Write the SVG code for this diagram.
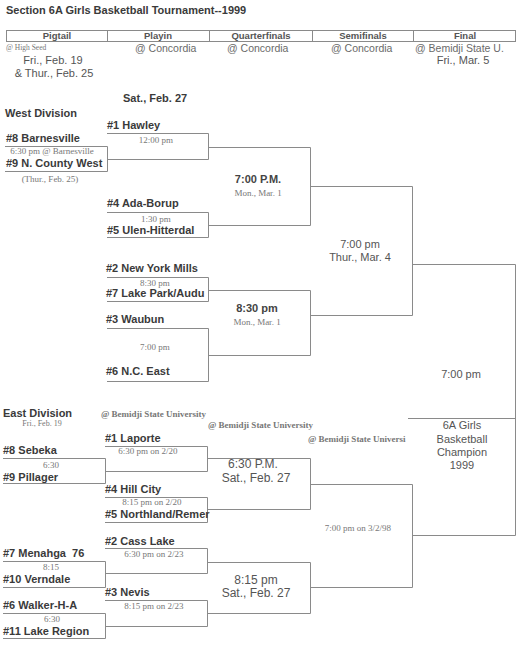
<svg xmlns="http://www.w3.org/2000/svg" width="521" height="664" viewBox="0 0 521 664">
<style>
.t{font-family:"Liberation Sans",Arial,sans-serif;font-weight:bold;font-size:11px;fill:#3a3a3a}
.h{font-family:"Liberation Sans",Arial,sans-serif;font-weight:bold;font-size:9.5px;fill:#555;text-anchor:middle}
.s{font-family:"Liberation Sans",Arial,sans-serif;font-size:10.5px;fill:#6a6a6a}
.m{font-family:"Liberation Sans",Arial,sans-serif;font-size:11px;fill:#555;text-anchor:middle}
.r{font-family:"Liberation Serif","Times New Roman",serif;font-size:9px;fill:#777;text-anchor:middle}
.rb{font-family:"Liberation Serif","Times New Roman",serif;font-size:9px;font-weight:bold;fill:#777}
.qb{font-family:"Liberation Sans",Arial,sans-serif;font-weight:bold;font-size:11px;fill:#444;text-anchor:middle}
.ln{fill:none;stroke:#8a8a8a;stroke-width:1}
</style>
<rect width="521" height="664" fill="#fff"/>

<g id="header">
<text class="t" x="6" y="14">Section 6A Girls Basketball Tournament--1999</text>
<rect class="ln" x="6.5" y="30.5" width="509" height="11"/>
<path class="ln" d="M107.5 30.5V41.5M209.5 30.5V41.5M312.5 30.5V41.5M413.5 30.5V41.5"/>
<text class="h" x="57" y="39">Pigtail</text>
<text class="h" x="158" y="39">Playin</text>
<text class="h" x="261" y="39">Quarterfinals</text>
<text class="h" x="363" y="39">Semifinals</text>
<text class="h" x="465" y="39">Final</text>
<text class="r" x="6" y="50" style="text-anchor:start;font-size:7.5px">@ High Seed</text>
<text class="m" x="53" y="64">Fri., Feb. 19</text>
<text class="m" x="54" y="77">&amp; Thur., Feb. 25</text>
<text class="s" x="135" y="52">@ Concordia</text>
<text class="s" x="227" y="52">@ Concordia</text>
<text class="s" x="331" y="52">@ Concordia</text>
<text class="s" x="415" y="52">@ Bemidji State U.</text>
<text class="m" x="463" y="64">Fri., Mar. 5</text>
<text class="t" x="123" y="102">Sat., Feb. 27</text>
<text class="t" x="5" y="117">West Division</text>
<text class="t" x="3" y="417">East Division</text>
<text class="r" x="42" y="426" style="font-size:8px">Fri., Feb. 19</text>
<text class="rb" x="101" y="417">@ Bemidji State University</text>
<text class="rb" x="208" y="428">@ Bemidji State University</text>
<text class="rb" x="308" y="442">@ Bemidji State Universi</text>
</g>

<g id="connectors">
<path class="ln" d="M5 146.5H107.5V171.5H5"/>
<path class="ln" d="M107 133.5H208.5V159.5H107"/>
<path class="ln" d="M107 212.5H208.5V237.5H107"/>
<path class="ln" d="M107 277.5H208.5V301.5H107"/>
<path class="ln" d="M107 328.5H208.5V381.5H107"/>
<path class="ln" d="M208 147.5H310.5V225.5H208"/>
<path class="ln" d="M208 290.5H310.5V355.5H208"/>
<path class="ln" d="M310 186.5H412.5V315.5H310"/>
<path class="ln" d="M412 264.5H515.5V535.5H412"/>
<path class="ln" d="M408 418.5H515"/>
<path class="ln" d="M3 458.5H105.5V483.5H3"/>
<path class="ln" d="M105 446.5H207.5V471.5H105"/>
<path class="ln" d="M105 497.5H207.5V522.5H105"/>
<path class="ln" d="M3 561.5H105.5V587.5H3"/>
<path class="ln" d="M105 548.5H207.5V573.5H105"/>
<path class="ln" d="M3 613.5H105.5V638.5H3"/>
<path class="ln" d="M105 600.5H207.5V626.5H105"/>
<path class="ln" d="M207 458.5H310.5V509.5H207"/>
<path class="ln" d="M207 562.5H310.5V613.5H207"/>
<path class="ln" d="M310 484.5H412.5V587.5H310"/>
</g>

<g id="pig-west">
<text class="t" x="6" y="142">#8 Barnesville</text>
<text class="r" x="52" y="154">6:30 pm @ Barnesville</text>
<text class="t" x="6" y="167">#9 N. County West</text>
<text class="r" x="50" y="182">(Thur., Feb. 25)</text>
</g>
<g id="hawley">
<text class="t" x="107" y="129">#1 Hawley</text>
<text class="r" x="156" y="143">12:00 pm</text>
</g>
<g id="ada">
<text class="t" x="107" y="207">#4 Ada-Borup</text>
<text class="r" x="156" y="222">1:30 pm</text>
<text class="t" x="107" y="234">#5 Ulen-Hitterdal</text>
</g>
<g id="nym">
<text class="t" x="106" y="272">#2 New York Mills</text>
<text class="r" x="155" y="286">8:30 pm</text>
<text class="t" x="106" y="297">#7 Lake Park/Audu</text>
</g>
<g id="waubun">
<text class="t" x="106" y="323">#3 Waubun</text>
<text class="r" x="155" y="350">7:00 pm</text>
<text class="t" x="106" y="375">#6 N.C. East</text>
</g>
<g id="qf-w1">
<text class="qb" x="258" y="183">7:00 P.M.</text>
<text class="r" x="258" y="196">Mon., Mar. 1</text>
</g>
<g id="qf-w2">
<text class="qb" x="257" y="312">8:30 pm</text>
<text class="r" x="257" y="325">Mon., Mar. 1</text>
</g>
<g id="sf-w">
<text class="m" x="360" y="248">7:00 pm</text>
<text class="m" x="360" y="261">Thur., Mar. 4</text>
</g>
<g id="final">
<text class="m" x="461" y="378">7:00 pm</text>
<text class="m" x="462" y="429">6A Girls</text>
<text class="m" x="462" y="443">Basketball</text>
<text class="m" x="462" y="456">Champion</text>
<text class="m" x="462" y="469">1999</text>
</g>

<g id="pig-sebeka">
<text class="t" x="3" y="454">#8 Sebeka</text>
<text class="r" x="51" y="468">6:30</text>
<text class="t" x="3" y="481">#9 Pillager</text>
</g>
<g id="laporte">
<text class="t" x="105" y="442">#1 Laporte</text>
<text class="r" x="148" y="454">6:30 pm on 2/20</text>
</g>
<g id="hillcity">
<text class="t" x="105" y="493">#4 Hill City</text>
<text class="r" x="152" y="505">8:15 pm on 2/20</text>
<text class="t" x="105" y="518">#5 Northland/Remer</text>
</g>
<g id="pig-menahga">
<text class="t" x="3" y="557" style="white-space:pre">#7 Menahga  76</text>
<text class="r" x="51" y="570">8:15</text>
<text class="t" x="3" y="583">#10 Verndale</text>
</g>
<g id="casslake">
<text class="t" x="105" y="545">#2 Cass Lake</text>
<text class="r" x="154" y="557">6:30 pm on 2/23</text>
</g>
<g id="pig-walker">
<text class="t" x="3" y="609">#6 Walker-H-A</text>
<text class="r" x="52" y="622">6:30</text>
<text class="t" x="3" y="635">#11 Lake Region</text>
</g>
<g id="nevis">
<text class="t" x="105" y="596">#3 Nevis</text>
<text class="r" x="154" y="609">8:15 pm on 2/23</text>
</g>
<g id="qf-e1">
<text class="m" x="253" y="468" style="font-size:12px">6:30 P.M.</text>
<text class="m" x="256" y="482" style="font-size:12px">Sat., Feb. 27</text>
</g>
<g id="qf-e2">
<text class="m" x="256" y="584" style="font-size:12px">8:15 pm</text>
<text class="m" x="256" y="597" style="font-size:12px">Sat., Feb. 27</text>
</g>
<g id="sf-e">
<text class="r" x="358" y="531">7:00 pm on 3/2/98</text>
</g>
</svg>
